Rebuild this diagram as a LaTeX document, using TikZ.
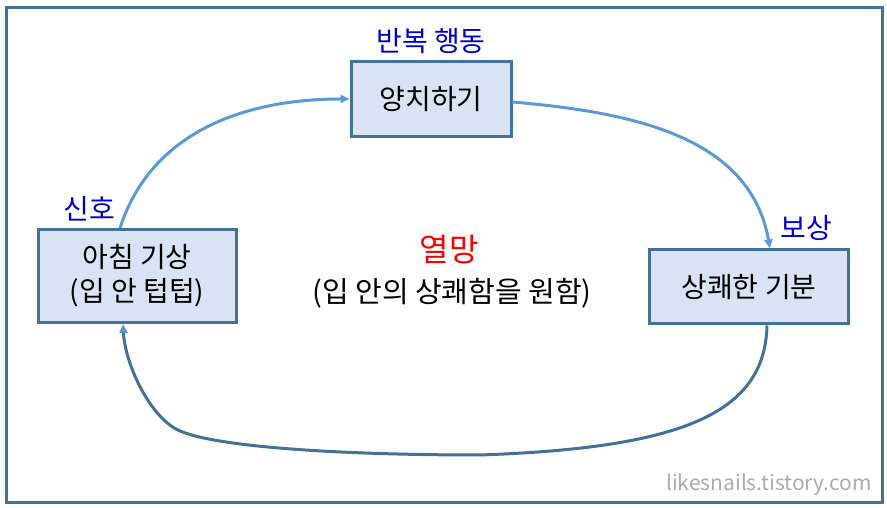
\documentclass[tikz,border=0pt]{standalone}
\usepackage{fontspec}
\setmainfont{Noto Sans CJK KR}
\usetikzlibrary{arrows.meta}

\definecolor{rahmenblau}{RGB}{65,113,156}
\definecolor{pfeilblau}{RGB}{91,155,213}
\definecolor{kastenblau}{RGB}{218,227,243}
\definecolor{textblau}{RGB}{0,0,204}
\definecolor{hellgrau}{RGB}{170,170,178}

\begin{document}
\begin{tikzpicture}[x=1pt, y=1pt,
        kasten/.style={draw=rahmenblau, fill=kastenblau, line width=3pt, inner sep=0pt,
            align=center, font=\fontsize{28}{34}\selectfont},
        marke/.style={text=textblau, font=\fontsize{28}{30}\selectfont},
        pfeil/.style={pfeilblau, line width=3pt, -{Triangle[length=9pt, width=8pt]}},
        schleife/.style={rahmenblau, line width=3pt, -{Triangle[length=9pt, width=8pt, color=pfeilblau]}}]
        \useasboundingbox (0, 0) rectangle (887, 508);
        % Rahmen
        \draw[rahmenblau, line width=3pt] (6, 5) rectangle (882, 500);
        % Kaesten
        \node[kasten, minimum width=160pt, minimum height=75pt] (brush) at (431, 409) {양치하기};
        \node[kasten, minimum width=198pt, minimum height=93pt] (wake) at (137, 232) {아침 기상\\(입 안 텁텁)};
        \node[kasten, minimum width=199pt, minimum height=74pt] (fresh) at (749, 221) {상쾌한 기분};
        % Beschriftungen
        \node[marke] (routine) at (431, 467) {반복 행동};
        \node[marke] (cue) at (89, 299) {신호};
        \node[marke] (reward) at (806, 280) {보상};
        \node[text=red, font=\fontsize{32}{32}\selectfont] (craving) at (449, 258) {열망};
        \node[font=\fontsize{29}{30}\selectfont] (note) at (452, 215) {(입 안의 상쾌함을 원함)};
        \node[text=hellgrau, font=\fontsize{21}{21}\selectfont] (source) at (769, 23) {likesnails.tistory.com};
        % Pfeile
        \coordinate (lowmid) at (480, 53);
        \coordinate (lowleft) at (180, 77);
        \draw[pfeil] ([xshift=-17pt]wake.north) to[out=72, in=180] (brush.west);
        \draw[pfeil] ([yshift=-3pt]brush.east) to[out=-5, in=100] ([xshift=21pt]fresh.north);
        \draw[schleife]
            ([xshift=18pt]fresh.south) .. controls +(-2, -89) and +(200, 7) ..
            (lowmid) .. controls +(-130, 0) and +(40, -17) ..
            (lowleft) .. controls +(-30, 13) and +(2, -40) ..
            ([xshift=-14pt]wake.south);
\end{tikzpicture}
\end{document}
